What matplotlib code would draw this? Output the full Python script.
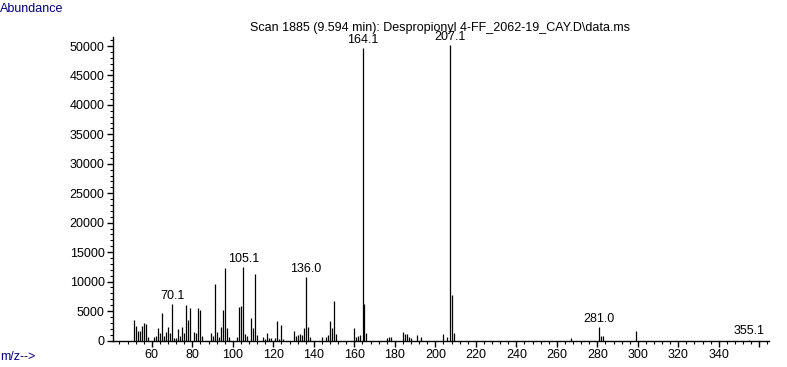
import matplotlib.pyplot as plt
from matplotlib.ticker import MultipleLocator, FuncFormatter

plt.rcParams['font.family'] = ['Liberation Sans', 'DejaVu Sans']

# m/z values and abundances
mz = [51, 52, 53, 54, 55, 56, 57, 58, 61, 62, 63, 64, 65, 66, 67, 68, 69,
      70.1, 71, 72, 73, 74, 75, 76, 77, 78, 79, 81, 82, 83, 84, 85,
      89, 90, 91, 92, 93, 94, 95, 96, 97, 98, 102, 103, 104, 105.1, 106, 107,
      109, 110, 111, 112, 115, 116, 117, 118, 119, 121, 122, 123, 124, 125,
      130, 131, 132, 133, 134, 135, 136.0, 137, 138, 144, 146, 147, 148, 149,
      150, 151, 160, 161, 162, 163, 164.1, 165, 166, 176, 177, 178,
      184, 185, 186, 187, 188, 191, 193, 204, 206, 207.1, 208, 209,
      267, 281.0, 282, 283, 299, 355.1]
abundance = [3480, 2460, 1610, 1610, 2460, 2970, 2800, 540, 540, 760, 2070,
             1270, 4730, 760, 1440, 2240, 1220,
             6200, 420, 420, 1950, 760, 2240, 1270, 6030, 3480, 5520, 1440,
             1270, 5520, 5180, 760,
             1270, 760, 9650, 1440, 590, 2290, 5180, 12310, 2070, 540, 540,
             5630, 5860, 12480, 1050, 760,
             3820, 2120, 11290, 930, 540, 250, 1270, 420, 420, 420, 3310, 250,
             2630, 250,
             1610, 760, 930, 1100, 930, 2120, 10780, 2290, 540, 540, 540, 930,
             3310, 2120,
             6710, 1100, 2200, 590, 760, 930, 49600, 6200, 1270, 420, 590, 590,
             1440, 1100, 1100, 590, 420, 930, 590, 1100, 540, 50100, 7730, 1270,
             420, 2240, 760, 680, 1610, 150]

labels = ['70.1', '105.1', '136.0', '164.1', '207.1', '281.0', '355.1']
label_mz = [70.1, 105.1, 136.0, 164.1, 207.1, 281.0, 355.1]

title = "Scan 1885 (9.594 min): Despropionyl 4-FF_2062-19_CAY.D\\data.ms"

fig = plt.figure(figsize=(7.87, 3.67), dpi=100)
ax = fig.add_axes([113 / 787, 26.5 / 367, 656 / 787, 303.5 / 367])

ax.vlines(mz, 0, abundance, color='black', lw=0.9)

ax.set_xlim(40.8, 364.8)
ax.set_ylim(0, 51530)

for s in ['top', 'right']:
    ax.spines[s].set_visible(False)
for s in ['left', 'bottom']:
    ax.spines[s].set_linewidth(1.0)

ax.yaxis.set_major_locator(MultipleLocator(5000))
ax.yaxis.set_minor_locator(MultipleLocator(1000))
ax.xaxis.set_major_locator(MultipleLocator(20))
ax.xaxis.set_minor_locator(MultipleLocator(4))
ax.xaxis.set_major_formatter(FuncFormatter(
    lambda v, p: '' if v > 345 else '%d' % v))
ax.tick_params(which='major', length=4, width=1, labelsize=9, pad=2)
ax.tick_params(which='minor', length=2, width=0.8)

# peak labels
for lab, m in zip(labels, label_mz):
    h = abundance[mz.index(m)]
    bg = dict(facecolor='white', edgecolor='none', pad=0.5)
    ax.text(m, h + 400, lab, ha='center', va='bottom', fontsize=9,
            bbox=bg if lab == '207.1' else None, zorder=5)

fig.text(440 / 787, 1 - 28 / 367, title, ha='center', va='center',
         fontsize=9, zorder=1)
fig.text(0.0, 1 - 9 / 367, 'Abundance', ha='left', va='center',
         fontsize=9, color='#000080')
fig.text(0.0, 1 - 357 / 367, 'm/z-->', ha='left', va='center',
         fontsize=9, color='#000080')

fig.savefig('out.png', dpi=100)
